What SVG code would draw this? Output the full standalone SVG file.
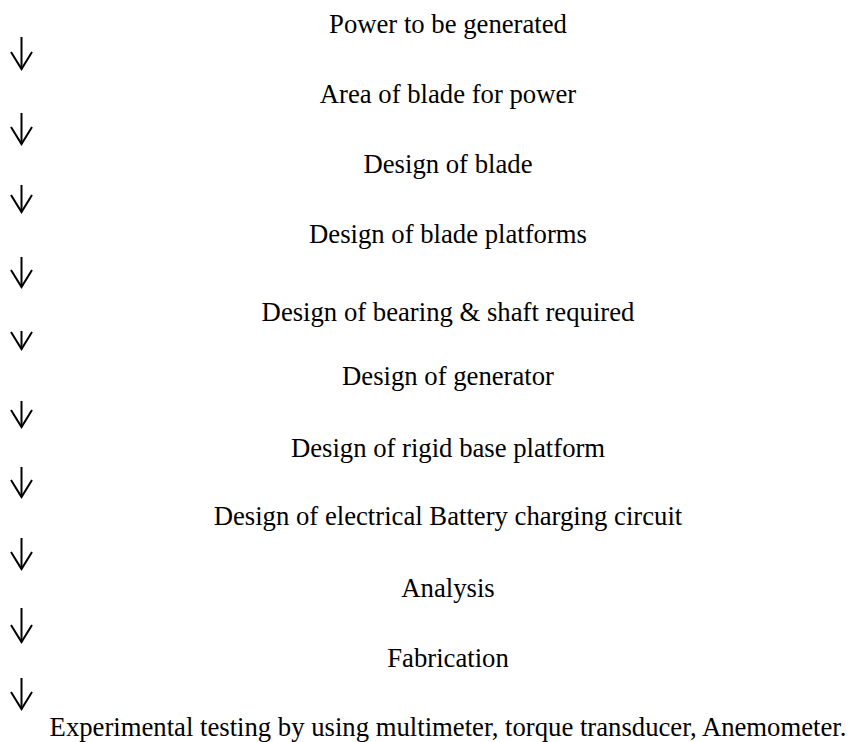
<svg xmlns="http://www.w3.org/2000/svg" width="849" height="742" viewBox="0 0 849 742">
  <style>
    .lbl { font-family: "Liberation Serif", "Times New Roman", serif; font-size: 26.7px; fill: #000; text-anchor: middle; }
    .conn { stroke: #000; stroke-width: 2; fill: none; }
  </style>
  <defs>
    <marker id="vhead" markerUnits="userSpaceOnUse" viewBox="-20 -13 23 26" refX="0" refY="0" markerWidth="23" markerHeight="26" orient="auto" overflow="visible">
      <path d="M-17,-10.5 L0,0 L-17,10.5" fill="none" stroke="#000" stroke-width="2" stroke-linejoin="miter"/>
    </marker>
  </defs>
  <rect width="849" height="742" fill="#fff"/>
  <g id="connectors">
    <line class="conn" x1="21.5" y1="37" x2="21.5" y2="69" marker-end="url(#vhead)"/>
    <line class="conn" x1="21.5" y1="113" x2="21.5" y2="144" marker-end="url(#vhead)"/>
    <line class="conn" x1="21.5" y1="185" x2="21.5" y2="212" marker-end="url(#vhead)"/>
    <line class="conn" x1="21.5" y1="257" x2="21.5" y2="287" marker-end="url(#vhead)"/>
    <line class="conn" x1="21.5" y1="331" x2="21.5" y2="349" marker-end="url(#vhead)"/>
    <line class="conn" x1="21.5" y1="401" x2="21.5" y2="427" marker-end="url(#vhead)"/>
    <line class="conn" x1="21.5" y1="467" x2="21.5" y2="497" marker-end="url(#vhead)"/>
    <line class="conn" x1="21.5" y1="538" x2="21.5" y2="569" marker-end="url(#vhead)"/>
    <line class="conn" x1="21.5" y1="608" x2="21.5" y2="642" marker-end="url(#vhead)"/>
    <line class="conn" x1="21.5" y1="678" x2="21.5" y2="709" marker-end="url(#vhead)"/>
  </g>
  <g id="n1"><text class="lbl" x="448" y="33">Power to be generated</text></g>
  <g id="n2"><text class="lbl" x="448" y="103">Area of blade for power</text></g>
  <g id="n3"><text class="lbl" x="448" y="173">Design of blade</text></g>
  <g id="n4"><text class="lbl" x="448" y="243">Design of blade platforms</text></g>
  <g id="n5"><text class="lbl" x="448" y="321">Design of bearing &amp; shaft required</text></g>
  <g id="n6"><text class="lbl" x="448" y="385">Design of generator</text></g>
  <g id="n7"><text class="lbl" x="448" y="457">Design of rigid base platform</text></g>
  <g id="n8"><text class="lbl" x="448" y="525">Design of electrical Battery charging circuit</text></g>
  <g id="n9"><text class="lbl" x="448" y="597">Analysis</text></g>
  <g id="n10"><text class="lbl" x="448" y="667">Fabrication</text></g>
  <g id="n11"><text class="lbl" x="448" y="735.5">Experimental testing by using multimeter, torque transducer, Anemometer.</text></g>
</svg>
